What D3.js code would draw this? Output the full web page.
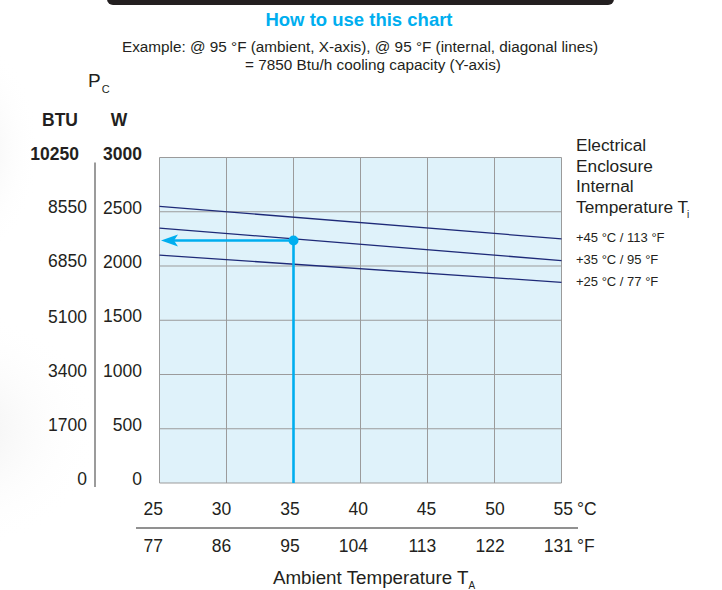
<!DOCTYPE html>
<html>
<head>
<meta charset="utf-8">
<script src="https://cdn.jsdelivr.net/npm/d3@7"></script>
<style>
  body { margin: 0; background: #fff; }
  svg { display: block; font-family: 'Liberation Sans', Arial, sans-serif; }
</style>
</head>
<body>
<svg id="chart" width="722" height="590"></svg>
<script>
// axis ticks
const celsiusTicks = [25, 30, 35, 40, 45, 50, 55]
const fahrenheitTicks = [77, 86, 95, 104, 113, 122, 131]
const wattTicks = [0, 500, 1000, 1500, 2000, 2500, 3000]
const btuTicks = [0, 1700, 3400, 5100, 6850, 8550, 10250]

// diagonal lines: cooling capacity (W) at 25 °C and 55 °C ambient
const internalTemps = ['+45 °C / 113 °F', '+35 °C / 95 °F', '+25 °C / 77 °F']
const capacityAt25 = [2550, 2350, 2100]
const capacityAt55 = [2250, 2050, 1850]

// worked example
const exampleAmbient = [35]
const exampleWatts = [2235]

const blue = '#00aeef'
const navy = '#1e2a78'
const ink = '#231f20'

const svg = d3.select('#chart')

// faint shadow on the left edge of the page
const defs = svg.append('defs')
const grad = defs.append('radialGradient').attr('id', 'shade')
grad.append('stop').attr('offset', '0%').attr('stop-color', '#ececec').attr('stop-opacity', 0.8)
grad.append('stop').attr('offset', '100%').attr('stop-color', '#ffffff').attr('stop-opacity', 0)
svg.append('ellipse').attr('cx', -40).attr('cy', 430).attr('rx', 140).attr('ry', 120).attr('fill', 'url(#shade)')
svg.append('ellipse').attr('cx', -30).attr('cy', 150).attr('rx', 70).attr('ry', 110).attr('fill', 'url(#shade)')

// black bar at the top
svg.append('rect')
  .attr('x', 107).attr('y', -10)
  .attr('width', 507).attr('height', 15)
  .attr('rx', 6)
  .attr('fill', ink)

svg.append('text')
  .attr('x', 359).attr('y', 26)
  .attr('text-anchor', 'middle')
  .attr('font-size', 18.5).attr('font-weight', 'bold')
  .attr('fill', blue)
  .text('How to use this chart')

svg.append('text')
  .attr('x', 360).attr('y', 52)
  .attr('text-anchor', 'middle')
  .attr('font-size', 15.3).attr('fill', ink)
  .text('Example: @ 95 °F (ambient, X-axis), @ 95 °F (internal, diagonal lines)')
svg.append('text')
  .attr('x', 373).attr('y', 70)
  .attr('text-anchor', 'middle')
  .attr('font-size', 15.3).attr('fill', ink)
  .text('= 7850 Btu/h cooling capacity (Y-axis)')

const xScale = d3.scaleLinear().domain([25, 55]).range([159.5, 561.5])
const yScale = d3.scaleLinear().domain([0, 3000]).range([483, 157.5])
// tick labels are printed right-aligned, slightly wider than the grid
const xLabelScale = d3.scaleLinear().domain([25, 55]).range([163, 573])

// plot area
svg.append('rect')
  .attr('x', xScale(25)).attr('y', yScale(3000))
  .attr('width', xScale(55) - xScale(25))
  .attr('height', yScale(0) - yScale(3000))
  .attr('fill', '#dff2fa')

const grid = svg.append('g').attr('stroke', '#9b9b9b').attr('stroke-width', 1)
grid.selectAll('.vline')
  .data(celsiusTicks)
  .enter()
  .append('line')
  .attr('x1', d => xScale(d)).attr('x2', d => xScale(d))
  .attr('y1', yScale(0)).attr('y2', yScale(3000))
grid.selectAll('.hline')
  .data(wattTicks)
  .enter()
  .append('line')
  .attr('x1', xScale(25)).attr('x2', xScale(55))
  .attr('y1', d => yScale(d)).attr('y2', d => yScale(d))

// diagonal lines
svg.append('g')
  .selectAll('line')
  .data(internalTemps)
  .enter()
  .append('line')
  .attr('x1', xScale(25)).attr('y1', (d, i) => yScale(capacityAt25[i]))
  .attr('x2', xScale(55)).attr('y2', (d, i) => yScale(capacityAt55[i]))
  .attr('stroke', navy).attr('stroke-width', 1.3)

// example path
const ex = xScale(exampleAmbient[0])
const ey = yScale(exampleWatts[0])
svg.append('line')
  .attr('x1', ex).attr('x2', ex)
  .attr('y1', yScale(0)).attr('y2', ey)
  .attr('stroke', blue).attr('stroke-width', 2.6)
svg.append('line')
  .attr('x1', ex).attr('x2', xScale(25) + 14)
  .attr('y1', ey).attr('y2', ey)
  .attr('stroke', blue).attr('stroke-width', 2.6)
const tipX = xScale(25) + 1.5
svg.append('path')
  .attr('d', `M${tipX},${ey} L${tipX + 17},${ey - 6} L${tipX + 13},${ey} L${tipX + 17},${ey + 6} Z`)
  .attr('fill', blue)
svg.append('circle')
  .attr('cx', ex).attr('cy', ey).attr('r', 5)
  .attr('fill', blue)

// y axes (W and BTU)
svg.append('line')
  .attr('x1', 95).attr('x2', 95)
  .attr('y1', yScale(3000) + 5).attr('y2', yScale(0) + 4)
  .attr('stroke', '#7a7a7a').attr('stroke-width', 1.5)

svg.append('g')
  .selectAll('text')
  .data(wattTicks)
  .enter()
  .append('text')
  .attr('x', 142)
  .attr('y', d => yScale(d) + 2)
  .attr('text-anchor', 'end')
  .attr('font-size', 17.5)
  .attr('font-weight', d => d === 3000 ? 'bold' : 'normal')
  .attr('fill', ink)
  .text(d => d)

svg.append('g')
  .selectAll('text')
  .data(btuTicks)
  .enter()
  .append('text')
  .attr('x', d => d === 10250 ? 79 : 87)
  .attr('y', d => yScale(d / 3.4167) + 2)
  .attr('text-anchor', 'end')
  .attr('font-size', 17.5)
  .attr('font-weight', d => d === 10250 ? 'bold' : 'normal')
  .attr('fill', ink)
  .text(d => d)

const pc = svg.append('text').attr('x', 88).attr('y', 87).attr('font-size', 19).attr('fill', ink)
pc.append('tspan').text('P')
pc.append('tspan').attr('dx', 1).attr('dy', 6).attr('font-size', 11).text('C')

svg.append('text')
  .attr('x', 60).attr('y', 126)
  .attr('text-anchor', 'middle')
  .attr('font-size', 17.5).attr('font-weight', 'bold').attr('fill', ink)
  .text('BTU')
svg.append('text')
  .attr('x', 119).attr('y', 126)
  .attr('text-anchor', 'middle')
  .attr('font-size', 17.5).attr('font-weight', 'bold').attr('fill', ink)
  .text('W')

// x axis labels
svg.append('g')
  .selectAll('text')
  .data(celsiusTicks)
  .enter()
  .append('text')
  .attr('x', d => xLabelScale(d))
  .attr('y', 515)
  .attr('font-size', 17.5).attr('fill', ink)
  .attr('text-anchor', 'end')
  .text(d => d)

svg.append('g')
  .selectAll('text')
  .data(fahrenheitTicks)
  .enter()
  .append('text')
  .attr('x', (d, i) => xLabelScale(celsiusTicks[i]))
  .attr('y', 552)
  .attr('font-size', 17.5).attr('fill', ink)
  .attr('text-anchor', 'end')
  .text(d => d)

svg.append('text')
  .attr('x', xLabelScale(55) + 4).attr('y', 515)
  .attr('font-size', 17.5).attr('fill', ink)
  .text('°C')
svg.append('text')
  .attr('x', xLabelScale(55) + 4).attr('y', 552)
  .attr('font-size', 17.5).attr('fill', ink)
  .text('°F')

svg.append('line')
  .attr('x1', 136).attr('x2', 578)
  .attr('y1', 528).attr('y2', 528)
  .attr('stroke', '#6d6d6d').attr('stroke-width', 1.5)

const xt = svg.append('text')
  .attr('x', 374).attr('y', 584)
  .attr('text-anchor', 'middle')
  .attr('font-size', 18.8).attr('fill', ink)
xt.append('tspan').text('Ambient Temperature T')
xt.append('tspan').attr('dy', 5).attr('font-size', 10).text('A')

// legend
const legendTitle = ['Electrical', 'Enclosure', 'Internal', 'Temperature T']
const lt = svg.append('g')
lt.selectAll('text')
  .data(legendTitle)
  .enter()
  .append('text')
  .attr('x', 576)
  .attr('y', (d, i) => 151 + i * 20.7)
  .attr('font-size', 17.3).attr('fill', ink)
  .text(d => d)
lt.append('text')
  .attr('x', 687).attr('y', 151 + 3 * 20.7 + 5)
  .attr('font-size', 10).attr('fill', ink)
  .text('i')

svg.append('g')
  .selectAll('text')
  .data(internalTemps)
  .enter()
  .append('text')
  .attr('x', 576)
  .attr('y', (d, i) => yScale(capacityAt55[i]) + 3.5)
  .attr('font-size', 13).attr('fill', ink)
  .text(d => d)
</script>
</body>
</html>
